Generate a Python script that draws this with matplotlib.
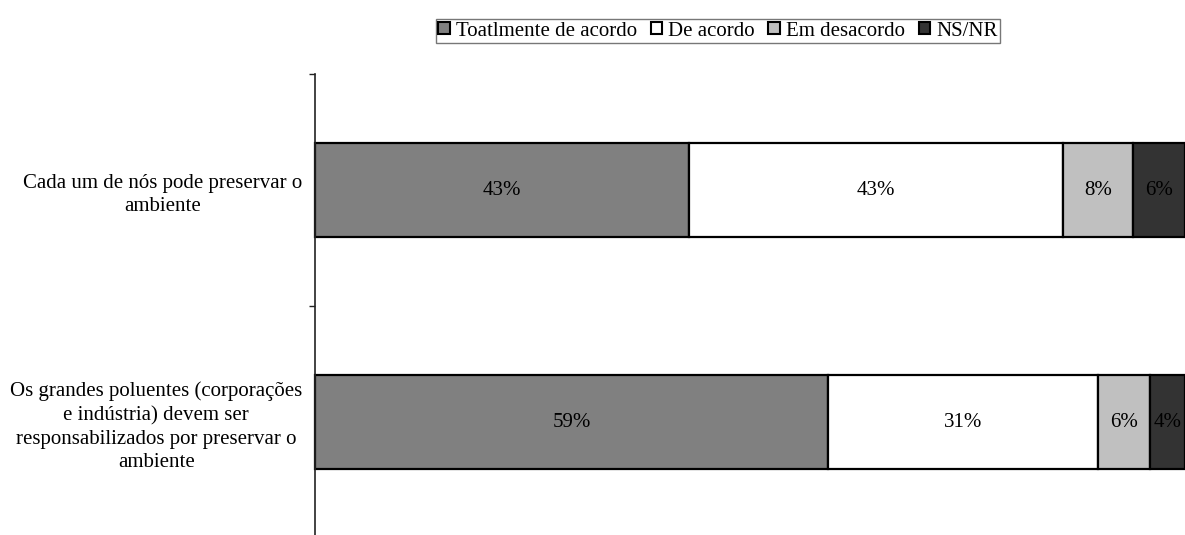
import numpy as np
import matplotlib
matplotlib.use("Agg")
import matplotlib.pyplot as plt
from matplotlib.patches import Patch

plt.rcParams['font.family'] = ['Liberation Serif', 'DejaVu Serif']

# survey answers, percent of respondents
questions = ["Cada um de nós pode preservar o\nambiente",
             "Os grandes poluentes (corporações\ne indústria) devem ser\nresponsabilizados por preservar o\nambiente"]
answers = ["Toatlmente de acordo", "De acordo", "Em desacordo", "NS/NR"]
totalmente = [43, 59]
de_acordo = [43, 31]
desacordo = [8, 6]
ns_nr = [6, 4]
colours = ["#808080", "#ffffff", "#c0c0c0", "#333333"]

series = [totalmente, de_acordo, desacordo, ns_nr]
fs = 15

fig = plt.figure(figsize=(11.85, 5.35), dpi=100)
ax = fig.add_axes([315/1185, 1 - 538/535, 870/1185, (538 - 74)/535])

ypos = np.arange(len(questions))
left = np.zeros(len(questions))
for vals, col in zip(series, colours):
    vals = np.array(vals, dtype=float)
    ax.barh(ypos, vals, left=left, height=0.405, color=col,
            edgecolor="black", linewidth=1.6, clip_on=False)
    for y, l, v in zip(ypos, left, vals):
        ax.text(l + v / 2, y, f"{int(v)}%", ha="center", va="center",
                fontsize=fs, color="black")
    left += vals

ax.set_xlim(0, 100)
ax.set_ylim(1.5, -0.5)

ax.set_yticks(ypos)
ax.set_yticklabels(questions, fontsize=fs, multialignment="center", linespacing=1.32)
ax.tick_params(axis="y", which="major", length=0, pad=9)
ax.set_yticks([-0.5, 0.5, 1.5], minor=True)
ax.tick_params(axis="y", which="minor", length=4.5, width=1, color="#222222")

ax.set_xticks([])
for side in ["top", "right", "bottom"]:
    ax.spines[side].set_visible(False)
ax.spines["left"].set_linewidth(1.2)
ax.spines["left"].set_color("#222222")

handles = [Patch(facecolor=c, edgecolor="black", linewidth=1.5) for c in colours]
leg = fig.legend(handles, answers, loc="center", bbox_to_anchor=(718/1185, 1 - 31/535),
                 ncol=4, fontsize=fs, frameon=True, fancybox=False,
                 handlelength=0.55, handleheight=0.55, handletextpad=0.3,
                 columnspacing=0.65, borderpad=0.12, borderaxespad=0)
leg.get_frame().set_edgecolor("#555555")
leg.get_frame().set_linewidth(1.0)

fig.savefig("out.png", dpi=100)
